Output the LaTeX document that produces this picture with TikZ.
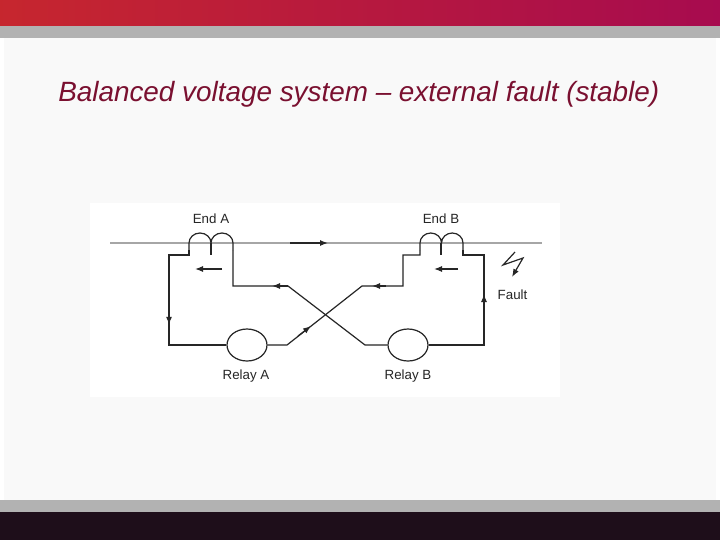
\documentclass[tikz,border=0pt]{standalone}
\usepackage{fontspec}
\setmainfont{Liberation Sans}
\usetikzlibrary{decorations.markings,arrows.meta,shapes.geometric}
\definecolor{topred}{HTML}{B8103A}
\definecolor{ttl}{HTML}{7A1030}
\definecolor{dark}{HTML}{1E0E1A}
\begin{document}
\begin{tikzpicture}[x=0.75pt,y=-0.75pt,
  wire/.style={line width=0.9pt,black!85},
  lbl/.style={font=\fontsize{10}{12}\selectfont,text=black!85},
  tip/.style={-{Latex[length=6pt,width=4.5pt]}},
  mid/.style={postaction={decorate},decoration={markings,mark=at position #1 with {\arrow{Latex[length=6pt,width=4.5pt]}}}}]
\useasboundingbox (0,0) rectangle (720,540);
\shade[left color=topred!80!orange, right color=topred!70!violet] (0,0) rectangle (720,26);
\fill[gray!60] (0,26) rectangle (720,38);
\fill[dark] (0,512) rectangle (720,540);
\fill[gray!60] (0,500) rectangle (720,512);
\fill[white!95!gray] (4,38) rectangle (716,500);
\node[anchor=west,text=ttl,font=\itshape\fontsize{20.9}{25}\selectfont,inner sep=0pt] (title) at (58,94) {Balanced voltage system – external fault (stable)};
\fill[white] (90,203) rectangle (560,397);
\draw[gray!70,line width=1pt] (110,243) -- (542,243);
\draw[black!85,line width=1pt,-{Latex[length=6pt,width=4.5pt]}] (290,243) -- (328,243);
\draw[wire] (189,250) -- (189,243) arc[start angle=180,end angle=360,x radius=11,y radius=10] arc[start angle=180,end angle=360,x radius=11,y radius=10] -- (233,250);
\draw[wire] (211,243) -- (211,255);
\draw[wire] (420,250) -- (420,243) arc[start angle=180,end angle=360,x radius=10.75,y radius=10] arc[start angle=180,end angle=360,x radius=10.75,y radius=10] -- (463,250);
\draw[wire] (441,243) -- (441,255);
\node[lbl] (ea) at (211,219) {End A};
\node[lbl] (eb) at (441,219) {End B};
\node[draw,wire,ellipse,minimum width=30pt,minimum height=24pt,inner sep=0pt] (ra) at (247,345) {};
\node[draw,wire,ellipse,minimum width=30pt,minimum height=24pt,inner sep=0pt] (rb) at (408,345) {};
\node[lbl] (la) at (246,376) {Relay A};
\node[lbl] (lb) at (408,376) {Relay B};
\draw[wire,mid=0.55] (189,250) -- (189,255) -- (169,255) -- (169,345) -- (ra.west);
\draw[wire] (233,250) -- (233,286) -- (288,286) -- (365,345) -- (rb.west);
\draw[wire] (rb.east) -- (484,345) -- (484,255) -- (463,255) -- (463,250);
\draw[wire] (420,250) -- (420,255) -- (403,255) -- (403,286) -- (362,286) -- (287,345) -- (ra.east);
\draw[wire,tip] (484,305) -- (484,294);
\draw[wire,tip] (288,286) -- (272,286);
\draw[wire,tip] (386,286) -- (372,286);
\draw[wire,tip] (298,336) -- (311,326);
\draw[wire,tip] (222,269) -- (195,269);
\draw[wire,tip] (458,269) -- (434,269);
\draw[wire,tip] (515,252) -- (503,265) -- (523,258) -- (512,277);
\node[lbl,anchor=west] (fl) at (493,295) {Fault};
\end{tikzpicture}
\end{document}
